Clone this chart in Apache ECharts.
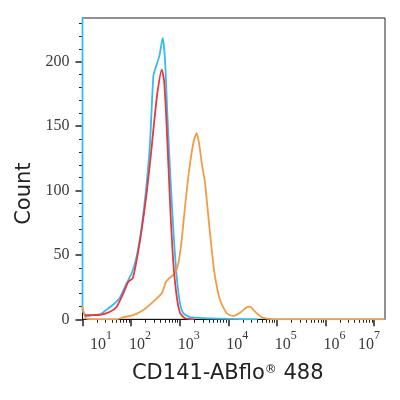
<!DOCTYPE html>
<html><head><meta charset="utf-8">
<script src="https://cdn.jsdelivr.net/npm/echarts@6/dist/echarts.min.js"></script>
<style>html,body{margin:0;padding:0;background:#fff}#c{width:400px;height:400px}</style>
</head><body><div id="c"></div>
<script>
// Axis ticks and labels
const xTickValues = [10, 100, 1e3, 1e4, 1e5, 1e6, 1e7];
const xInnerLabelValues = [100, 1e3, 1e4, 1e5, 1e6];
const xEdgeLabelValues = [10, 1e7];
const yTickValues = [0, 50, 100, 150, 200];
const xMinorTickValues = [];
for (let d = 10; d < 1e7; d *= 10) { for (let k = 2; k <= 9; k++) xMinorTickValues.push(k * d); }
const yMinorTickValues = [];
for (let v = 10; v <= 230; v += 10) { if (v % 50 !== 0) yMinorTickValues.push(v); }

// Series data (fluorescence intensity, count)
const cyanX = [10, 10, 12.2, 16.7, 22.9, 31.5, 43, 59, 81, 103, 130, 165, 203, 245, 287, 326, 380, 448, 499, 557, 632, 741, 869, 1016, 1189, 1633, 3600, 10000, 40000];
const cyanY = [600, 7, 2.6, 3.3, 3.8, 7.5, 11.5, 17, 28, 35.8, 48.7, 72, 100.5, 136.9, 188.6, 196.4, 204.2, 218.5, 201.6, 160, 116, 69.4, 33, 12.4, 4.7, 1.6, 0.8, 0.3, 0];

const redX = [11, 16, 23, 36.8, 50.6, 69.2, 87.7, 108, 130.5, 165, 209, 253, 297, 347, 427, 476, 524, 584, 653, 741, 869, 1016, 1288, 2000];
const redY = [3, 3.3, 3.5, 5.9, 9.8, 20.2, 29.2, 31.9, 46.1, 69.4, 98, 126.4, 152.4, 175.7, 193.9, 186, 160, 121, 79.8, 43.5, 17.6, 5.1, 0.8, 0];

const orangeX = [10, 10.5, 12, 20, 50, 69, 111, 179, 287, 427, 524, 612, 802, 938, 1101, 1288, 1507, 1713, 1974, 2242, 2537, 2843, 3325, 3890, 4566, 5336, 6760, 9290, 12700, 17450, 23970, 28050, 35560, 48850, 66840, 100000, 16800000];
const orangeY = [10, 6, 0.5, 0, 0, 1.6, 3.3, 7.2, 13.7, 20.2, 29.2, 31.9, 35.8, 43.5, 61.7, 87.6, 110.9, 126.4, 139.4, 144.6, 135.5, 121.3, 105.8, 79.8, 53.9, 33.1, 15, 4.7, 2.6, 5.1, 9.3, 9.8, 5.9, 1.6, 0.3, 0, 0];

const zip = (xs, ys) => xs.map((x, i) => [x, ys[i]]);

const serifFont = 'Liberation Serif';
const titleFont = 'DejaVu Sans';
const labelColor = '#3a3a3a';
const X_MIN = 10, X_MAX = 1.68e7, Y_MAX = 234;

const spacer = { fontSize: 8, lineHeight: 8, verticalAlign: 'bottom' };
const powRich = {
  b: { fontFamily: serifFont, fontSize: 16, lineHeight: 16, color: labelColor, verticalAlign: 'bottom' },
  e: { fontFamily: serifFont, fontSize: 12, lineHeight: 12, color: labelColor, verticalAlign: 'bottom', padding: [0, 0, 10, 0] },
  l1: Object.assign({ width: 37 }, spacer),
  l2: Object.assign({ width: 18 }, spacer),
  r7: Object.assign({ width: 10 }, spacer)
};
function powLabel(v) {
  const n = Math.round(Math.log10(v));
  const pre = n === 1 ? '{l1| }' : (n === 7 ? '' : '{l2| }');
  const post = n === 7 ? '{r7| }' : '';
  return pre + '{b|10}{e|' + n + '}' + post;
}

const chart = echarts.init(document.getElementById('c'), null, { renderer: 'canvas' });
chart.setOption({
  animation: false,
  backgroundColor: '#fff',
  grid: { left: 82.5, right: 15, top: 18, bottom: 80.7, show: true, borderColor: '#222', borderWidth: 1, containLabel: false, outerBoundsMode: 'none' },
  xAxis: [{
    type: 'log', logBase: 10, min: X_MIN, max: X_MAX, position: 'bottom', gridIndex: 0,
    axisLine: { show: true, onZero: false, lineStyle: { color: '#111', width: 1 } },
    axisTick: { show: true, customValues: xTickValues, length: 7, inside: false, lineStyle: { color: '#222', width: 1.5 } },
    axisLabel: { customValues: xInnerLabelValues, margin: 17, color: labelColor, showMinLabel: true, showMaxLabel: true, formatter: powLabel, rich: powRich },
    splitLine: { show: false },
    name: 'CD141-ABflo{r|®} 488', nameLocation: 'middle', nameGap: 44,
    nameTextStyle: {
      fontFamily: titleFont, fontSize: 21, color: '#222', padding: [0, 12, 0, 0],
      rich: { r: { fontFamily: titleFont, fontSize: 12, color: '#222', padding: [0, 0, 8, 0], verticalAlign: 'bottom' } }
    }
  }, {
    type: 'log', logBase: 10, min: X_MIN, max: X_MAX, position: 'bottom', gridIndex: 0,
    axisLine: { show: false, onZero: false },
    axisTick: { show: true, customValues: xMinorTickValues, length: 3.5, inside: false, lineStyle: { color: '#222', width: 1 } },
    axisLabel: { customValues: xEdgeLabelValues, margin: 17, color: labelColor, showMinLabel: true, showMaxLabel: true, formatter: powLabel, rich: powRich },
    splitLine: { show: false }
  }],
  yAxis: [{
    type: 'value', min: 0, max: Y_MAX, interval: 50, position: 'left', gridIndex: 0,
    axisLine: { show: true, onZero: false, lineStyle: { color: '#111', width: 1 } },
    axisTick: { show: true, customValues: yTickValues, length: 7, lineStyle: { color: '#222', width: 1.5 } },
    axisLabel: { customValues: yTickValues, margin: 13, color: labelColor, fontFamily: serifFont, fontSize: 16 },
    splitLine: { show: false },
    name: 'Count', nameLocation: 'middle', nameGap: 46, nameRotate: 90,
    nameTextStyle: { fontFamily: titleFont, fontSize: 21, color: '#222', padding: [0, 50, 0, 0] }
  }, {
    type: 'value', min: 0, max: Y_MAX, position: 'left', gridIndex: 0,
    axisLine: { show: false, onZero: false },
    axisTick: { show: true, customValues: yMinorTickValues, length: 3.5, lineStyle: { color: '#222', width: 1 } },
    axisLabel: { show: false },
    splitLine: { show: false }
  }],
  series: [
    { name: 'Cyan', type: 'line', xAxisIndex: 0, yAxisIndex: 0, data: zip(cyanX, cyanY), showSymbol: false, smooth: 0.2, clip: true,
      lineStyle: { color: '#33bdef', width: 1.8 }, itemStyle: { color: '#33bdef' }, z: 3 },
    { name: 'Orange', type: 'line', xAxisIndex: 0, yAxisIndex: 0, data: zip(orangeX, orangeY), showSymbol: false, smooth: 0.2, clip: true,
      lineStyle: { color: '#f39c45', width: 1.8 }, itemStyle: { color: '#f39c45' }, z: 4 },
    { name: 'Red', type: 'line', xAxisIndex: 0, yAxisIndex: 0, data: zip(redX, redY), showSymbol: false, smooth: 0.2, clip: true,
      lineStyle: { color: '#e8383d', width: 1.8 }, itemStyle: { color: '#e8383d' }, z: 5 }
  ]
});
</script>
</body></html>
